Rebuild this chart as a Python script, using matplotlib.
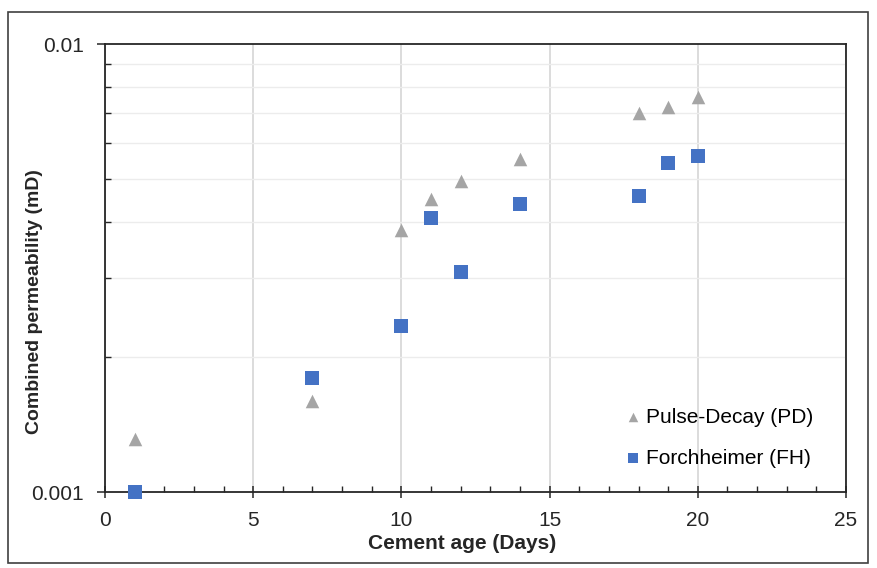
import numpy as np
import matplotlib.pyplot as plt
from matplotlib.ticker import FixedLocator, LogLocator, NullFormatter, MultipleLocator
from matplotlib.patches import Rectangle

plt.rcParams['font.family'] = ['Liberation Sans', 'DejaVu Sans']

# ---- data ----
pd_days = [1, 7, 10, 11, 12, 14, 18, 19, 20]
pd_perm = [0.00131, 0.00160, 0.00385, 0.00451, 0.00494, 0.00554, 0.00702, 0.00723, 0.00762]

fh_days = [1, 7, 10, 11, 12, 14, 18, 19, 20]
fh_perm = [0.00100, 0.00180, 0.00235, 0.00409, 0.00310, 0.00440, 0.00458, 0.00542, 0.00562]

fig = plt.figure(figsize=(8.77, 5.68), dpi=100)
ax = fig.add_axes([105 / 877, 1 - 492 / 568, (846 - 105) / 877, (492 - 44) / 568])

ax.scatter(pd_days, pd_perm, marker='^', s=95, color='#a5a5a5', label='Pulse-Decay (PD)',
           zorder=5, linewidths=0)
ax.scatter(fh_days, fh_perm, marker='s', s=100, color='#4472c4', label='Forchheimer (FH)',
           zorder=5, linewidths=0, clip_on=False)

ax.set_yscale('log')
ax.set_xlim(0, 25)
ax.set_ylim(0.001, 0.01)

ax.xaxis.set_major_locator(MultipleLocator(5))
ax.xaxis.set_minor_locator(MultipleLocator(1))
ax.yaxis.set_major_locator(FixedLocator([0.001, 0.01]))
ax.yaxis.set_major_formatter(plt.FuncFormatter(lambda v, p: f'{v:g}'))
ax.yaxis.set_minor_locator(LogLocator(base=10, subs=np.arange(2, 10)))
ax.yaxis.set_minor_formatter(NullFormatter())

ax.grid(True, which='major', axis='x', color='#d9d9d9', linewidth=1.3)
ax.grid(True, which='minor', axis='y', color='#ececec', linewidth=1.0)
ax.set_axisbelow(True)

for s in ax.spines.values():
    s.set_color('#262626')
    s.set_linewidth(1.3)

ax.tick_params(axis='x', which='major', direction='inout', length=8, width=1.1,
               labelsize=15, pad=9.5, colors='#262626')
ax.tick_params(axis='x', which='minor', direction='in', length=4, width=1.0, colors='#262626')
ax.tick_params(axis='y', which='major', direction='out', length=6, width=1.1,
               labelsize=15, pad=9, colors='#262626')
ax.tick_params(axis='y', which='minor', direction='in', length=4, width=1.0, colors='#262626')

ax.set_xlabel('Cement age (Days)', fontsize=15, fontweight='bold', color='#262626')
ax.xaxis.set_label_coords(0.482, -0.094)
ax.set_ylabel('Combined permeability (mD)', fontsize=14, fontweight='bold', color='#262626')
ax.yaxis.set_label_coords(-0.084, 0.426)

ax.legend(loc='lower right', bbox_to_anchor=(0.975, 0.022), frameon=False, fontsize=15,
          handletextpad=0.0, labelspacing=1.04, markerscale=0.7, borderaxespad=0.3,
          handlelength=1.2)

fig.patches.append(Rectangle((8 / 877, 1 - 563 / 568), (868 - 8) / 877, (563 - 12) / 568,
                             transform=fig.transFigure, fill=False, edgecolor='#404040',
                             linewidth=1.2))

fig.savefig('out.png', dpi=100)
